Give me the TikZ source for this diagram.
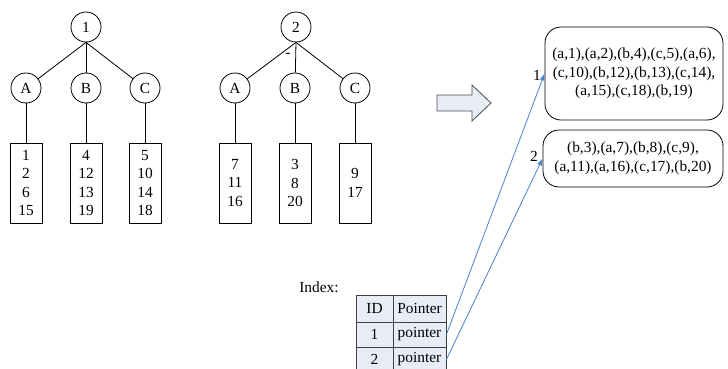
\documentclass[tikz,border=0pt]{standalone}
\usepackage{fontspec}
\setmainfont{Liberation Serif}
\usetikzlibrary{arrows.meta}
\definecolor{paleblue}{HTML}{E7ECF6}
\definecolor{linkblue}{HTML}{4A7EC6}
\tikzset{every node/.style={inner sep=0pt,font=\fontsize{15.4}{18.5}\selectfont},
  vert/.style={draw,circle,minimum size=30pt},
  leaf/.style={draw,minimum width=32pt,minimum height=80pt,align=center},
  list/.style={draw,rounded corners=16pt,align=center},
  cell/.style={draw=black!75,fill=paleblue}}

\begin{document}
\begin{tikzpicture}[x=1pt,y=-1pt,line width=0.8pt]
\useasboundingbox (0,0) rectangle (728,369);
      % first tree
      \node[vert] (r1) at (86,27) {1};
      \node[vert] (a1) at (26,88) {A};
      \node[vert] (b1) at (86,88) {B};
      \node[vert] (c1) at (145,88) {C};
      \node[leaf] (la1) at (26,183) {1\\2\\6\\15};
      \node[leaf] (lb1) at (86,183) {4\\12\\13\\19};
      \node[leaf] (lc1) at (145,183) {5\\10\\14\\18};
      % second tree
      \node[vert] (r2) at (296,27) {2};
      \node[vert] (a2) at (235,88) {A};
      \node[vert] (b2) at (295,88) {B};
      \node[vert] (c2) at (355,88) {C};
      \node (dash) at (288,55) {-};
      \node[leaf] (la2) at (235,183) {7\\11\\16};
      \node[leaf] (lb2) at (295,183) {3\\8\\20};
      \node[leaf] (lc2) at (355,183) {9\\17};

\foreach \a/\b in {r1/a1,r1/b1,r1/c1,r2/a2,r2/b2,r2/c2}
  \draw (\a.south) -- (\b);
\foreach \a in {a1,b1,c1,a2,b2,c2}
  \draw (\a) -- (l\a);

      % big arrow
      \draw[draw=black!70,fill=paleblue] (437,95) -- (472,95) -- (472,85) -- (491,103)
        -- (472,121) -- (472,111) -- (437,111) -- cycle;

      % lists
      \node[list,minimum width=178pt,minimum height=93pt] (s1) at (634,73.5)
        {(a,1),(a,2),(b,4),(c,5),(a,6),\\(c,10),(b,12),(b,13),(c,14),\\(a,15),(c,18),(b,19)};
      \node[list,minimum width=180pt,minimum height=57pt] (s2) at (633,158.5)
        {(b,3),(a,7),(b,8),(c,9),\\(a,11),(a,16),(c,17),(b,20)};
      \node (n1) at (537,75) {1};
      \node (n2) at (534,156) {2};

      % index table
      \node (idx) at (319,287) {Index:};
      \node[cell,minimum width=37pt,minimum height=27pt] (id) at (374.5,308.5) {ID};
      \node[cell,minimum width=53pt,minimum height=27pt] (ptr) at (419.5,308.5) {Pointer};
      \node[cell,minimum width=37pt,minimum height=25pt] (i1) at (374.5,334.5) {1};
      \node[cell,minimum width=53pt,minimum height=25pt] (p1) at (419.5,334.5) {pointer};
      \node[cell,minimum width=37pt,minimum height=25pt] (i2) at (374.5,359.5) {2};
      \node[cell,minimum width=53pt,minimum height=25pt] (p2) at (419.5,359.5) {pointer};

\foreach \a/\b in {p1/s1,p2/s2}
  \draw[linkblue,-{Latex[length=7pt,width=5pt]}] (\a.east) -- (\b.west);
    \end{tikzpicture}
\end{document}
